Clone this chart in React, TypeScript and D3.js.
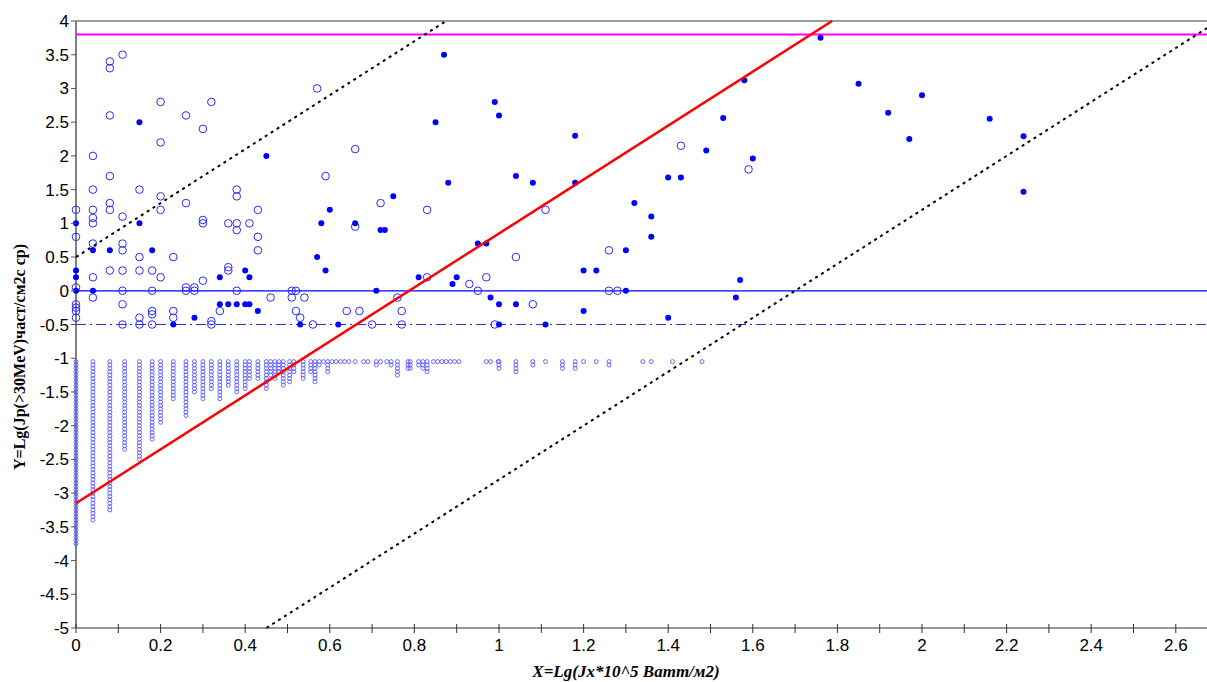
import React from "react";
import * as d3 from "d3";

// chart frame (pixels)
const W = 1207;
const H = 682;
const left = 76;
const top = 21;
const bottom = 628;
const xMax = (W - left) / 423;

// open circles (large)
const openPts: [number, number][] = [
  [0, 1.2], [0, 0.8], [0, 0.05], [0, -0.2], [0, -0.25], [0, -0.3], [0, -0.4],
  [0.04, 2.0], [0.04, 1.5], [0.04, 1.2], [0.04, 1.08], [0.04, 1.0], [0.04, 0.7], [0.04, 0.2], [0.04, -0.1],
  [0.08, 3.4], [0.08, 3.3], [0.08, 2.6], [0.08, 1.7], [0.08, 1.3], [0.08, 1.2], [0.08, 0.3],
  [0.11, 3.5], [0.11, 1.1], [0.11, 0.7], [0.11, 0.6], [0.11, 0.3], [0.11, 0], [0.11, -0.2], [0.11, -0.5],
  [0.15, 1.5], [0.15, 0.5], [0.15, 0.3], [0.15, -0.4], [0.15, -0.5],
  [0.18, 0.3], [0.18, 0], [0.18, -0.3], [0.18, -0.35], [0.18, -0.5],
  [0.2, 2.8], [0.2, 2.2], [0.2, 1.4], [0.2, 1.2], [0.2, 0.2],
  [0.23, 0.5], [0.23, -0.3], [0.23, -0.4],
  [0.26, 2.6], [0.26, 1.3], [0.26, 0.05], [0.26, 0],
  [0.28, 0.05], [0.28, 0],
  [0.3, 2.4], [0.3, 1.05], [0.3, 1.0], [0.3, 0.15],
  [0.32, 2.8], [0.32, -0.45], [0.32, -0.5],
  [0.34, -0.3],
  [0.36, 1.0], [0.36, 0.35], [0.36, 0.3],
  [0.38, 1.5], [0.38, 1.4], [0.38, 1.0], [0.38, 0.9], [0.38, 0],
  [0.41, 1.0],
  [0.43, 1.2], [0.43, 0.8], [0.43, 0.6],
  [0.46, -0.1], [0.51, 0], [0.51, -0.1], [0.52, 0], [0.52, -0.3], [0.53, -0.4], [0.54, -0.1],
  [0.56, -0.5], [0.57, 3.0], [0.59, 1.7], [0.66, 2.1], [0.66, 0.95], [0.64, -0.3], [0.67, -0.3],
  [0.7, -0.5], [0.72, 1.3], [0.76, -0.1], [0.77, -0.3], [0.77, -0.5],
  [0.83, 1.2], [0.83, 0.2], [0.93, 0.1], [0.97, 0.2], [0.95, 0], [0.99, -0.5],
  [1.04, 0.5], [1.08, -0.2], [1.11, 1.2], [1.26, 0.6], [1.26, 0], [1.28, 0],
  [1.43, 2.15], [1.59, 1.8],
];

// filled dots
const filledPts: [number, number][] = [
  [0, 1.0], [0, 0.3], [0, 0.2], [0, 0], [0.04, 0.6], [0.04, 0], [0.08, 0.6],
  [0.15, 2.5], [0.15, 1.0], [0.18, 0.6], [0.23, -0.5], [0.28, -0.4],
  [0.34, 0.2], [0.34, -0.2], [0.36, -0.2], [0.38, -0.2], [0.4, 0.3], [0.4, -0.2],
  [0.41, 0.2], [0.41, -0.2], [0.43, -0.3], [0.45, 2.0], [0.53, -0.5],
  [0.57, 0.5], [0.58, 1.0], [0.59, 0.3], [0.6, 1.2], [0.62, -0.5], [0.66, 1.0],
  [0.71, 0], [0.72, 0.9], [0.73, 0.9], [0.75, 1.4], [0.81, 0.2],
  [0.85, 2.5], [0.87, 3.5], [0.88, 1.6], [0.89, 0.1], [0.9, 0.2],
  [0.95, 0.7], [0.97, 0.7], [0.98, -0.1], [0.99, 2.8], [1.0, 2.6], [1.0, -0.2], [1.0, -0.5],
  [1.04, 1.7], [1.04, -0.2], [1.08, 1.6], [1.11, -0.5], [1.18, 2.3], [1.18, 1.6],
  [1.2, 0.3], [1.23, 0.3], [1.2, -0.3], [1.3, 0.6], [1.3, 0], [1.32, 1.3],
  [1.36, 1.1], [1.36, 0.8], [1.4, 1.68], [1.43, 1.68], [1.4, -0.4],
  [1.49, 2.08], [1.53, 2.56], [1.56, -0.1], [1.57, 0.16], [1.58, 3.12], [1.6, 1.96],
  [1.76, 3.75], [1.85, 3.07], [1.92, 2.64], [1.97, 2.25], [2.0, 2.9], [2.16, 2.55],
  [2.24, 2.29], [2.24, 1.47],
];

// stacked small circles: column x and lowest value (stacks start at -1.05, step 0.05)
const colX = [
  0, 0.04, 0.08, 0.115, 0.15, 0.18, 0.2, 0.23, 0.26, 0.28, 0.3, 0.32, 0.34, 0.36, 0.38, 0.4, 0.41,
  0.43, 0.45, 0.46, 0.47, 0.48, 0.49, 0.505, 0.515, 0.537, 0.555, 0.565, 0.575, 0.585, 0.595, 0.605,
  0.615, 0.625, 0.635, 0.645, 0.66, 0.68, 0.69, 0.71, 0.72, 0.735, 0.745, 0.76, 0.785, 0.79, 0.81,
  0.82, 0.83, 0.845, 0.855, 0.865, 0.875, 0.885, 0.895, 0.905, 0.97, 0.98, 0.998, 1.0, 1.04, 1.08,
  1.11, 1.15, 1.18, 1.2, 1.23, 1.26, 1.34, 1.36, 1.41, 1.48,
];
const colMin = [
  -3.75, -3.4, -3.25, -2.35, -2.5, -2.2, -1.95, -1.6, -1.85, -1.5, -1.6, -1.45, -1.6, -1.4, -1.5, -1.45, -1.3,
  -1.3, -1.45, -1.25, -1.3, -1.2, -1.4, -1.35, -1.2, -1.3, -1.2, -1.35, -1.1, -1.05, -1.2, -1.05,
  -1.05, -1.05, -1.05, -1.05, -1.05, -1.05, -1.05, -1.1, -1.05, -1.05, -1.1, -1.25, -1.15, -1.15, -1.1,
  -1.15, -1.2, -1.05, -1.05, -1.05, -1.05, -1.05, -1.05, -1.05, -1.05, -1.05, -1.05, -1.15, -1.2, -1.1,
  -1.05, -1.15, -1.15, -1.05, -1.05, -1.1, -1.05, -1.05, -1.05, -1.05,
];
const colTop = -1.05;
const colStep = 0.05;

const xTicks = d3.range(0, 27).map((i) => i / 10);
const xLabels = ["0", "0.2", "0.4", "0.6", "0.8", "1", "1.2", "1.4", "1.6", "1.8", "2", "2.2", "2.4", "2.6"];
const yTicks = ["4", "3.5", "3", "2.5", "2", "1.5", "1", "0.5", "0", "-0.5", "-1", "-1.5", "-2", "-2.5", "-3", "-3.5", "-4", "-4.5", "-5"];

// reference lines: [slope, intercept]
const redFit = [4, -3.15];
const upperBound = [4, 0.5];
const lowerBound = [4, -6.8];
const limitY = 3.8;

export default function App() {
  const x = d3.scaleLinear().domain([0, xMax]).range([left, W]);
  const y = d3.scaleLinear().domain([-5, 4]).range([bottom, top]);

  const line = d3
    .line<[number, number]>()
    .x((d) => x(d[0]))
    .y((d) => y(d[1]));

  // part of y = k*x + b that lies inside the plot box
  const segment = (k: number, b: number): [number, number][] => {
    const x0 = Math.max(0, (-5 - b) / k);
    const x1 = Math.min(xMax, (4 - b) / k);
    return [[x0, k * x0 + b], [x1, k * x1 + b]];
  };

  const stacked: [number, number][] = [];
  colX.forEach((cx, i) => {
    const n = Math.round((colTop - colMin[i]) / colStep) + 1;
    d3.range(n).forEach((j) => stacked.push([cx, colTop - j * colStep]));
  });

  const sans = "'Liberation Sans', Arial, sans-serif";
  const serif = "'Liberation Serif', 'Times New Roman', serif";

  return (
    <svg width={W} height={H} style={{ position: "absolute", left: 0, top: 0, background: "#fff" }}>
      {/* frame */}
      <line x1={left} x2={W} y1={y(4)} y2={y(4)} stroke="#7a7a7a" strokeWidth={1.5} />
      <line x1={left} x2={left} y1={top} y2={bottom} stroke="#808080" strokeWidth={2} />

      {/* horizontal levels */}
      <line x1={left} x2={W} y1={y(limitY)} y2={y(limitY)} stroke="#ff00ff" strokeWidth={2} />
      <line x1={left} x2={W} y1={y(0)} y2={y(0)} stroke="#0000ff" strokeWidth={1.2} />
      <line x1={left} x2={W} y1={y(-0.5)} y2={y(-0.5)} stroke="#3030c0" strokeWidth={1.2} strokeDasharray="10 4 2 4" />

      {stacked.map((d, i) => (
        <circle key={`s${i}`} cx={x(d[0])} cy={y(d[1])} r={2} fill="none" stroke="#5a5aff" strokeWidth={0.9} />
      ))}
      {openPts.map((d, i) => (
        <circle key={`o${i}`} cx={x(d[0])} cy={y(d[1])} r={3.8} fill="none" stroke="#2a2aff" strokeWidth={1} />
      ))}
      {filledPts.map((d, i) => (
        <circle key={`f${i}`} cx={x(d[0])} cy={y(d[1])} r={3} fill="#0000ff" />
      ))}

      <path d={line(segment(upperBound[0], upperBound[1])) ?? ""} stroke="#000" strokeWidth={2} strokeDasharray="3 4" fill="none" />
      <path d={line(segment(lowerBound[0], lowerBound[1])) ?? ""} stroke="#000" strokeWidth={2} strokeDasharray="3 4" fill="none" />
      <path d={line(segment(redFit[0], redFit[1])) ?? ""} stroke="#ff0000" strokeWidth={2.5} fill="none" />

      {/* x axis */}
      <line x1={left} x2={W} y1={bottom} y2={bottom} stroke="#333" strokeWidth={1} />
      {xTicks.map((t) => (
        <line key={`xt${t}`} x1={x(t)} x2={x(t)} y1={bottom - 4} y2={bottom + 5} stroke="#333" strokeWidth={1} />
      ))}
      {xLabels.map((t) => (
        <text key={`xl${t}`} x={x(+t)} y={651} textAnchor="middle" fontFamily={sans} fontSize={17} fill="#000">
          {t}
        </text>
      ))}

      {/* y axis */}
      {yTicks.map((t) => (
        <g key={`yt${t}`}>
          <line x1={left - 5} x2={left} y1={y(+t)} y2={y(+t)} stroke="#555" strokeWidth={1} />
          <text x={69} y={y(+t) + 6} textAnchor="end" fontFamily={sans} fontSize={17} fill="#000">
            {t}
          </text>
        </g>
      ))}

      <text
        transform={`translate(25, 357) rotate(-90)`}
        textAnchor="middle"
        fontFamily={serif}
        fontWeight="bold"
        fontSize={16}
        fill="#000"
      >
        Y=Lg(Jp(&gt;30MeV)част/см2с ср)
      </text>
      <text x={626} y={677} textAnchor="middle" fontFamily={serif} fontWeight="bold" fontStyle="italic" fontSize={17} fill="#000">
        X=Lg(Jx*10^5 Bamm/м2)
      </text>
    </svg>
  );
}
